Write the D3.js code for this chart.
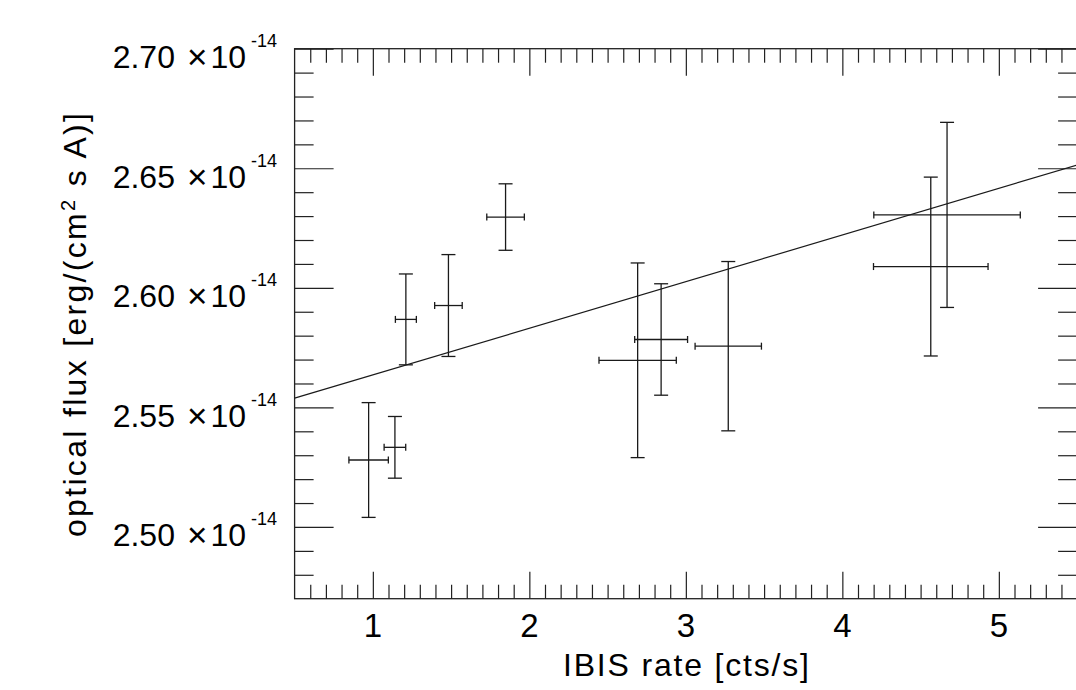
<!DOCTYPE html>
<html>
<head>
<meta charset="utf-8">
<title>optical flux vs IBIS rate</title>
<style type="text/css">
body { margin: 0; background: #fff; }
svg { font-family: "Liberation Sans", Arial, Helvetica, sans-serif; }
.frame { fill: none; stroke: #222; stroke-width: 1.3px; }
.tick line { stroke: #222; stroke-width: 1.2px; }
.domain { display: none; }
.err { stroke: #1a1a1a; stroke-width: 1.3px; fill: none; }
.fit { stroke: #1a1a1a; stroke-width: 1.2px; fill: none; }
.lbl { fill: #000; font-size: 31px; }
</style>
</head>
<body>
<script src="https://d3js.org/d3.v7.min.js"></script>
<script>
// IBIS count rate [cts/s] and its error
var rate    = [0.973, 1.141, 1.211, 1.483, 1.848, 2.692, 2.842, 3.271, 4.565, 4.669];
var rateErr = [0.126, 0.069, 0.067, 0.088, 0.120, 0.247, 0.169, 0.212, 0.366, 0.468];
// optical flux in units of 1e-14 erg/(cm2 s A) and its error
var flux    = [2.5280, 2.5333, 2.5868, 2.5926, 2.6296, 2.5697, 2.5784, 2.5756, 2.6089, 2.6305];
var fluxErr = [0.0240, 0.0129, 0.0190, 0.0213, 0.0139, 0.0407, 0.0233, 0.0354, 0.0374, 0.0387];
// linear fit: flux = fitA + fitB * rate
var fitA = 2.5441, fitB = 0.0195;

var xTicks = [1, 2, 3, 4, 5];
var yTicks = [2.50, 2.55, 2.60, 2.65, 2.70];
var yExp = "-14";

var W = 1076, H = 690;
var x0 = 294.6, x1 = 1077.1, y0 = 598.7, y1 = 48.7;

var xs = d3.scaleLinear().domain([0.5, 5.5]).range([x0, x1]),
    ys = d3.scaleLinear().domain([2.47, 2.70]).range([y0, y1]);

var svg = d3.select("body").append("svg")
    .attr("width", W)
    .attr("height", H);

var xMinor = d3.range(6, 55).map(function(d) { return d / 10; }).filter(function(d) { return Math.abs(d - Math.round(d)) > 1e-6; });
var yMinor = d3.range(248, 270).map(function(d) { return d / 100; }).filter(function(d) { return Math.abs(d * 20 - Math.round(d * 20)) > 1e-6; });

function axisG(axis, tx, ty) {
  svg.append("g")
    .attr("transform", "translate(" + tx + "," + ty + ")")
    .call(axis);
}

// bottom and top
axisG(d3.axisBottom(xs).tickValues(xTicks).tickSize(-27).tickFormat(""), 0, y0);
axisG(d3.axisBottom(xs).tickValues(xMinor).tickSize(-14).tickFormat(""), 0, y0);
axisG(d3.axisTop(xs).tickValues(xTicks).tickSize(-27).tickFormat(""), 0, y1);
axisG(d3.axisTop(xs).tickValues(xMinor).tickSize(-14).tickFormat(""), 0, y1);
// left and right
axisG(d3.axisLeft(ys).tickValues(yTicks).tickSize(-39).tickFormat(""), x0, 0);
axisG(d3.axisLeft(ys).tickValues(yMinor).tickSize(-19).tickFormat(""), x0, 0);
axisG(d3.axisRight(ys).tickValues(yTicks).tickSize(-39).tickFormat(""), x1, 0);
axisG(d3.axisRight(ys).tickValues(yMinor).tickSize(-19).tickFormat(""), x1, 0);

svg.append("rect").attr("class", "frame")
  .attr("x", x0).attr("y", y1)
  .attr("width", x1 - x0).attr("height", y0 - y1);

// x tick labels
svg.selectAll(".xl").data(xTicks).enter().append("text")
  .attr("class", "lbl")
  .style("font-size", "33px")
  .attr("x", function(d) { return xs(d); })
  .attr("y", y0 + 38)
  .attr("text-anchor", "middle")
  .text(function(d) { return d; });

// y tick labels  a.bc x 10^-14
var yl = svg.selectAll(".yl").data(yTicks).enter().append("text")
  .attr("class", "lbl")
  .style("font-size", "32px")
  .attr("x", 277)
  .attr("y", function(d) { return ys(d) + 19.5; })
  .attr("text-anchor", "end");
yl.append("tspan").text(function(d) { return d3.format(".2f")(d); });
yl.append("tspan").attr("dx", 12).attr("dy", 1).style("font-size", "35px").text("\u00d7");
yl.append("tspan").attr("dx", 3).attr("dy", -1).text("10");
yl.append("tspan").attr("dx", 5).attr("dy", -21).style("font-size", "18px").text(yExp);

// axis titles
svg.append("text").attr("class", "lbl")
  .style("font-size", "32px")
  .attr("x", 686).attr("y", 676)
  .attr("text-anchor", "middle")
  .attr("textLength", 246).attr("lengthAdjust", "spacing")
  .text("IBIS rate [cts/s]");

var yt = svg.append("text").attr("class", "lbl")
  .style("font-size", "32px")
  .attr("transform", "translate(86,325) rotate(-90)")
  .attr("text-anchor", "middle")
  .attr("textLength", 424).attr("lengthAdjust", "spacing");
yt.append("tspan").text("optical flux [erg/(cm");
yt.append("tspan").style("font-size", "20px").attr("dy", -11).text("2");
yt.append("tspan").attr("dy", 11).text(" s A)]");

// fit line
svg.append("line").attr("class", "fit")
  .attr("x1", xs(0.5)).attr("y1", ys(fitA + fitB * 0.5))
  .attr("x2", xs(5.5)).attr("y2", ys(fitA + fitB * 5.5));

// error bars
var pts = rate.map(function(r, i) {
  return { x: r, xe: rateErr[i], y: flux[i], ye: fluxErr[i] };
});
var g = svg.append("g").attr("class", "err");
var capW = 7, capH = 3.5;
pts.forEach(function(p) {
  var cx = xs(p.x), cy = ys(p.y),
      xl = xs(p.x - p.xe), xr = xs(p.x + p.xe),
      yt2 = ys(p.y + p.ye), yb = ys(p.y - p.ye);
  g.append("line").attr("x1", xl).attr("x2", xr).attr("y1", cy).attr("y2", cy);
  g.append("line").attr("x1", xl).attr("x2", xl).attr("y1", cy - capH).attr("y2", cy + capH);
  g.append("line").attr("x1", xr).attr("x2", xr).attr("y1", cy - capH).attr("y2", cy + capH);
  g.append("line").attr("x1", cx).attr("x2", cx).attr("y1", yt2).attr("y2", yb);
  g.append("line").attr("x1", cx - capW).attr("x2", cx + capW).attr("y1", yt2).attr("y2", yt2);
  g.append("line").attr("x1", cx - capW).attr("x2", cx + capW).attr("y1", yb).attr("y2", yb);
});
</script>
</body>
</html>
